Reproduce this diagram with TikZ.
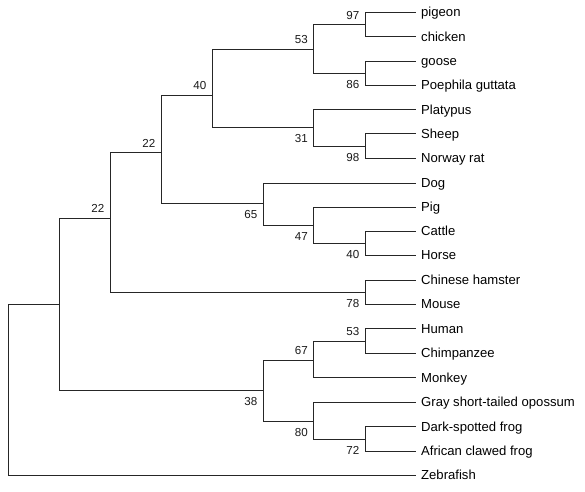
\documentclass[tikz,border=0pt]{standalone}
\usepackage{fontspec}
\setmainfont{Liberation Sans}
\begin{document}
\begin{tikzpicture}[x=1pt,y=-1pt,
  br/.style={line width=1pt, draw=black!85},
  leaf/.style={anchor=west, inner xsep=5pt, inner ysep=0pt, text height=9.3pt, text depth=0pt, font=\fontsize{13.1}{15}\selectfont},
  bsv/.style={anchor=base east, inner sep=0pt, font=\fontsize{11.6}{13}\selectfont, text=black!90}]
\useasboundingbox (0,0) rectangle (585,491);
% leaves
\node[leaf] (pigeon) at (416,12.3) {pigeon};
\node[leaf] (chicken) at (416,36.7) {chicken};
\node[leaf] (goose) at (416,61) {goose};
\node[leaf] (poephila) at (416,85.3) {Poephila guttata};
\node[leaf] (platypus) at (416,109.5) {Platypus};
\node[leaf] (sheep) at (416,133.7) {Sheep};
\node[leaf] (rat) at (416,158) {Norway rat};
\node[leaf] (dog) at (416,183) {Dog};
\node[leaf] (pig) at (416,207.3) {Pig};
\node[leaf] (cattle) at (416,231.3) {Cattle};
\node[leaf] (horse) at (416,255.3) {Horse};
\node[leaf] (hamster) at (416,280) {Chinese hamster};
\node[leaf] (mouse) at (416,304.3) {Mouse};
\node[leaf] (human) at (416,328.7) {Human};
\node[leaf] (chimp) at (416,353.3) {Chimpanzee};
\node[leaf] (monkey) at (416,377.7) {Monkey};
\node[leaf] (opossum) at (416,402.3) {Gray short-tailed opossum};
\node[leaf] (darkfrog) at (416,426.7) {Dark-spotted frog};
\node[leaf] (afrog) at (416,451) {African clawed frog};
\node[leaf] (zebrafish) at (416,475.3) {Zebrafish};
% internal nodes
\coordinate (root) at (8.3,390);
\coordinate (n1) at (59.3,304);
\coordinate (n2) at (110,218.3);
\coordinate (n3) at (161,152.7);
\coordinate (n40) at (212,95);
\coordinate (n53) at (313.5,49);
\coordinate (n97) at (365,24.5);
\coordinate (n86) at (365,73.2);
\coordinate (n31) at (313.5,127.7);
\coordinate (n98) at (365,146);
\coordinate (n65) at (263,203.7);
\coordinate (n47) at (313.5,225);
\coordinate (n40b) at (365,243.3);
\coordinate (n78) at (365,292.3);
\coordinate (n38) at (263,390.7);
\coordinate (n67) at (313.5,360);
\coordinate (n53b) at (365,341);
\coordinate (n80) at (313.5,421);
\coordinate (n72) at (365,439);
% branches
\draw[br] (root) |- (n1);
\draw[br] (root) |- (zebrafish.west);
\draw[br] (n1) |- (n2);
\draw[br] (n1) |- (n38);
\draw[br] (n2) |- (n3);
\draw[br] (n2) |- (n78);
\draw[br] (n3) |- (n40);
\draw[br] (n3) |- (n65);
\draw[br] (n40) |- (n53);
\draw[br] (n40) |- (n31);
\draw[br] (n53) |- (n97);
\draw[br] (n53) |- (n86);
\draw[br] (n97) |- (pigeon.west);
\draw[br] (n97) |- (chicken.west);
\draw[br] (n86) |- (goose.west);
\draw[br] (n86) |- (poephila.west);
\draw[br] (n31) |- (platypus.west);
\draw[br] (n31) |- (n98);
\draw[br] (n98) |- (sheep.west);
\draw[br] (n98) |- (rat.west);
\draw[br] (n65) |- (dog.west);
\draw[br] (n65) |- (n47);
\draw[br] (n47) |- (pig.west);
\draw[br] (n47) |- (n40b);
\draw[br] (n40b) |- (cattle.west);
\draw[br] (n40b) |- (horse.west);
\draw[br] (n78) |- (hamster.west);
\draw[br] (n78) |- (mouse.west);
\draw[br] (n38) |- (n67);
\draw[br] (n38) |- (n80);
\draw[br] (n67) |- (n53b);
\draw[br] (n67) |- (monkey.west);
\draw[br] (n53b) |- (human.west);
\draw[br] (n53b) |- (chimp.west);
\draw[br] (n80) |- (opossum.west);
\draw[br] (n80) |- (n72);
\draw[br] (n72) |- (darkfrog.west);
\draw[br] (n72) |- (afrog.west);
% bootstrap values (above: -5.5, below: +15)
\node[bsv] (b22a) at ([shift={(-5.5,-5.5)}]n2) {22};
\node[bsv] (b22b) at ([shift={(-5.5,-5.5)}]n3) {22};
\node[bsv] (b40) at ([shift={(-5.5,-5.5)}]n40) {40};
\node[bsv] (b53) at ([shift={(-5.5,-5.5)}]n53) {53};
\node[bsv] (b97) at ([shift={(-5.5,-5.5)}]n97) {97};
\node[bsv] (b86) at ([shift={(-5.5,15)}]n86) {86};
\node[bsv] (b31) at ([shift={(-5.5,15)}]n31) {31};
\node[bsv] (b98) at ([shift={(-5.5,15)}]n98) {98};
\node[bsv] (b65) at ([shift={(-5.5,15)}]n65) {65};
\node[bsv] (b47) at ([shift={(-5.5,15)}]n47) {47};
\node[bsv] (b40b) at ([shift={(-5.5,15)}]n40b) {40};
\node[bsv] (b78) at ([shift={(-5.5,15)}]n78) {78};
\node[bsv] (b38) at ([shift={(-5.5,15)}]n38) {38};
\node[bsv] (b67) at ([shift={(-5.5,-5.5)}]n67) {67};
\node[bsv] (b53b) at ([shift={(-5.5,-5.5)}]n53b) {53};
\node[bsv] (b80) at ([shift={(-5.5,15)}]n80) {80};
\node[bsv] (b72) at ([shift={(-5.5,15)}]n72) {72};
\end{tikzpicture}
\end{document}
